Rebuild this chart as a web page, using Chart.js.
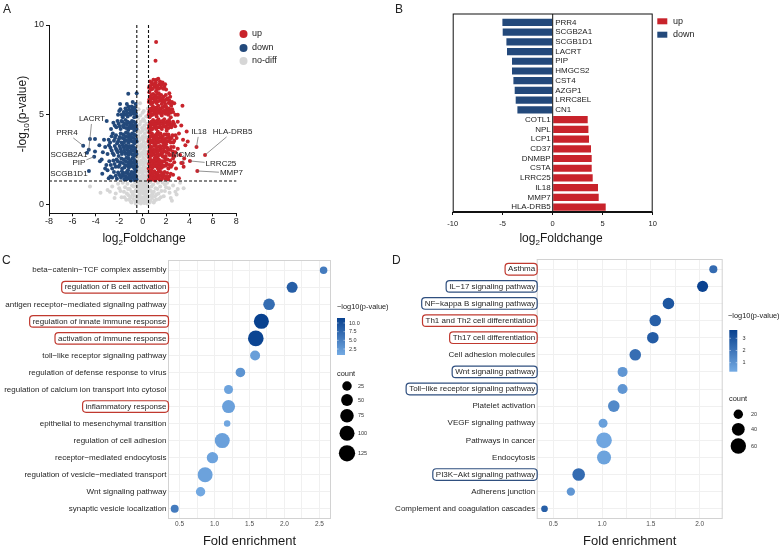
<!DOCTYPE html>
<html>
<head>
<meta charset="utf-8">
<script src="https://cdn.jsdelivr.net/npm/chart.js@4.4.1/dist/chart.umd.min.js"></script>
<style>
  body { margin: 0; background: #fff; }
  #fig { position: relative; width: 780px; height: 550px; overflow: hidden; font-family: "Liberation Sans", Arial, sans-serif; }
  #fig canvas { position: absolute; }
  .tag { position: absolute; font-size: 12px; line-height: 1; color: #222; }
</style>
</head>
<body>
<div id="fig">
  <canvas id="chartA" width="390" height="250" style="left:0;top:0"></canvas>
  <canvas id="chartB" width="390" height="250" style="left:390px;top:0"></canvas>
  <canvas id="chartC" width="390" height="300" style="left:0;top:250px"></canvas>
  <canvas id="chartD" width="390" height="300" style="left:390px;top:250px"></canvas>
  <div class="tag" style="left:3px;top:3px">A</div>
  <div class="tag" style="left:395px;top:3px">B</div>
  <div class="tag" style="left:2px;top:254px">C</div>
  <div class="tag" style="left:392px;top:254px">D</div>
</div>
<script>
// ---------- Panel A: volcano, points as [log2FC, -log10 p] ----------
const upPoints = [
  [0.53,1.36],[0.62,1.52],[0.71,1.41],[0.8,1.68],[0.88,1.38],[0.97,1.55],[1.06,1.33],[1.15,1.72],[1.24,1.46],[1.33,1.6],
  [1.45,1.39],[1.56,1.8],[1.68,1.5],[1.82,1.62],[1.95,1.42],[2.1,1.75],[2.28,1.55],[2.6,1.65],[0.58,1.85],[0.75,1.9],
  [1.0,1.85],[1.4,1.88],[3.1,1.45],
  [0.57,1.6],[0.66,1.75],[0.75,1.5],[0.84,1.62],[0.93,1.75],[1.02,1.48],[1.11,1.58],[1.2,1.62],[1.29,1.78],[1.38,1.5],
  [1.5,1.62],[1.62,1.4],[1.74,1.72],[1.88,1.8],[2.02,1.55],[2.18,1.4],[2.4,1.7],
  [0.52,2.0],[0.6,2.3],[0.68,2.1],[0.77,2.45],[0.85,2.05],[0.93,2.3],[1.02,2.55],[1.1,2.12],[1.2,2.38],[1.3,2.0],
  [1.38,2.5],[1.48,2.22],[1.58,2.02],[1.68,2.4],[1.8,2.15],[1.92,2.55],[2.05,2.28],[2.2,2.0],[2.35,2.45],[2.5,2.2],
  [2.7,2.35],[2.85,2.0],[0.56,2.6],[1.25,2.62],[1.75,2.65],[3.3,2.3],[3.5,2.1],
  [0.56,2.25],[0.64,2.5],[0.73,2.2],[0.81,2.15],[0.89,2.35],[0.98,2.42],[1.06,2.25],[1.15,2.5],[1.24,2.15],[1.34,2.3],
  [1.43,2.05],[1.53,2.4],[1.63,2.25],[1.73,2.1],[1.86,2.4],[1.99,2.15],[2.12,2.5],[2.27,2.2],[2.42,2.1],[2.6,2.55],
  [0.53,2.8],[0.62,3.1],[0.7,2.7],[0.8,3.0],[0.9,2.85],[0.98,3.25],[1.07,2.75],[1.16,3.05],[1.26,2.9],[1.35,3.2],
  [1.45,2.75],[1.55,3.1],[1.65,2.85],[1.75,3.25],[1.86,2.95],[1.98,2.7],[2.1,3.15],[2.22,2.85],[2.36,3.05],[2.5,2.75],
  [2.65,3.2],[2.8,2.9],[3.0,3.1],[3.2,2.75],[0.58,3.3],[1.1,3.35],[2.0,3.35],
  [0.57,2.95],[0.66,2.85],[0.75,3.2],[0.85,2.75],[0.94,3.05],[1.03,2.95],[1.12,2.7],[1.21,3.2],[1.3,2.8],[1.4,3.0],
  [1.5,3.25],[1.6,2.95],[1.7,2.7],[1.81,3.1],[1.92,3.2],[2.04,2.9],[2.16,3.05],[2.3,2.75],[2.43,3.2],[2.58,2.95],[2.73,2.7],
  [0.52,3.5],[0.61,3.8],[0.7,3.45],[0.79,3.95],[0.88,3.6],[0.96,3.4],[1.05,3.85],[1.14,3.55],[1.23,3.95],[1.32,3.45],
  [1.42,3.7],[1.52,3.95],[1.6,3.5],[1.7,3.8],[1.8,3.4],[1.9,3.65],[2.02,3.9],[2.14,3.5],[2.26,3.75],[2.4,3.45],
  [2.55,3.85],[2.7,3.55],[2.9,3.7],[3.1,3.95],[3.45,3.6],[3.76,4.06],[0.57,4.0],[1.3,4.05],[2.05,4.1],
  [0.56,3.65],[0.65,3.55],[0.74,3.8],[0.83,3.5],[0.92,3.8],[1.0,3.7],[1.09,3.45],[1.18,3.75],[1.27,3.6],[1.37,3.9],
  [1.47,3.5],[1.56,3.75],[1.65,3.65],[1.75,3.55],[1.85,3.9],[1.96,3.5],[2.08,3.7],[2.2,3.9],[2.33,3.6],[2.48,3.7],
  [2.62,3.45],[2.8,3.85],
  [0.53,4.25],[0.62,4.55],[0.71,4.15],[0.8,4.45],[0.89,4.7],[0.98,4.3],[1.07,4.6],[1.16,4.2],[1.25,4.5],[1.35,4.75],
  [1.44,4.3],[1.54,4.6],[1.64,4.2],[1.74,4.5],[1.85,4.75],[1.96,4.35],[2.08,4.6],[2.2,4.25],[2.32,4.55],[2.45,4.3],
  [2.6,4.6],[2.78,4.35],[3.0,4.6],[3.3,4.4],[0.58,4.85],[1.2,4.9],[2.4,4.85],
  [0.57,4.4],[0.66,4.3],[0.75,4.6],[0.84,4.2],[0.93,4.5],[1.02,4.45],[1.11,4.35],[1.2,4.65],[1.3,4.3],[1.4,4.55],
  [1.49,4.45],[1.59,4.3],[1.69,4.65],[1.79,4.35],[1.9,4.55],[2.02,4.25],[2.14,4.45],[2.26,4.7],[2.38,4.4],[2.52,4.45],[2.68,4.5],
  [0.52,5.0],[0.61,5.3],[0.7,4.95],[0.79,5.2],[0.88,5.45],[0.97,5.05],[1.06,5.35],[1.15,5.0],[1.24,5.25],[1.33,5.5],
  [1.43,5.1],[1.53,5.35],[1.63,4.95],[1.73,5.2],[1.84,5.45],[1.95,5.05],[2.06,5.3],[2.18,5.0],[2.3,5.25],[2.44,5.5],
  [2.6,5.15],[2.8,5.0],[3.0,5.0],[3.4,5.5],
  [0.56,5.15],[0.65,5.05],[0.74,5.35],[0.84,5.0],[0.93,5.25],[1.01,5.2],[1.1,5.1],[1.19,5.4],[1.29,5.1],[1.38,5.3],
  [1.48,5.2],[1.58,5.05],[1.68,5.4],[1.78,5.1],[1.9,5.25],[2.0,5.45],[2.12,5.15],[2.24,5.35],[2.37,5.1],[2.52,5.3],
  [0.53,5.7],[0.62,6.0],[0.71,5.6],[0.8,5.9],[0.9,6.15],[0.99,5.75],[1.08,6.05],[1.18,5.65],[1.28,5.95],[1.38,6.2],
  [1.48,5.8],[1.58,6.1],[1.68,5.7],[1.8,6.0],[1.92,5.6],[2.05,5.85],[2.2,5.65],[2.35,6.0],[2.5,5.7],[2.7,5.64],
  [0.57,6.25],[1.15,6.3],
  [0.57,5.85],[0.66,5.75],[0.76,6.1],[0.85,5.65],[0.94,5.95],[1.03,5.9],[1.13,5.8],[1.23,6.15],[1.33,5.75],[1.43,6.0],
  [1.53,5.9],[1.63,5.6],[1.74,5.85],[1.86,5.75],[1.98,6.1],[2.12,5.9],[2.27,5.8],[2.42,5.6],
  [0.55,6.5],[0.63,6.85],[0.72,6.4],[0.82,6.7],[0.92,6.95],[1.02,6.55],[1.12,6.8],[1.22,6.45],[1.33,7.0],[1.42,6.7],
  [1.55,6.5],[1.7,6.8],[1.85,6.56],[2.0,6.4],[2.28,6.2],[1.1,8.0],[1.15,9.05],
  [0.59,6.6],[0.68,6.55],[0.77,6.8],[0.87,6.45],[0.97,6.7],[1.07,6.65],[1.17,6.95],[1.27,6.6],[1.37,6.45],[1.48,6.85],
  [1.62,6.65],[1.77,6.45],[1.92,6.7],
  [3.65,3.3],[3.55,2.55],[3.85,3.5]
];
const downPoints = [
  [-0.53,1.4],[-0.62,1.62],[-0.71,1.35],[-0.8,1.78],[-0.9,1.5],[-1.0,1.33],[-1.1,1.68],[-1.2,1.45],[-1.32,1.85],[-1.44,1.55],
  [-1.56,1.38],[-1.7,1.72],[-1.85,1.48],[-2.0,1.65],[-2.2,1.42],[-2.45,1.8],[-2.75,1.55],[-3.0,1.9],[-0.58,1.9],[-1.25,1.9],
  [-0.57,1.55],[-0.66,1.8],[-0.75,1.48],[-0.85,1.65],[-0.95,1.8],[-1.05,1.42],[-1.15,1.55],[-1.26,1.7],[-1.38,1.4],[-1.5,1.75],
  [-1.63,1.58],[-1.77,1.85],[-1.92,1.6],[-2.1,1.78],[-2.3,1.6],[-2.6,1.5],
  [-0.52,2.1],[-0.61,2.4],[-0.7,2.0],[-0.79,2.3],[-0.88,2.55],[-0.97,2.15],[-1.07,2.45],[-1.17,2.05],[-1.27,2.35],[-1.38,2.6],
  [-1.5,2.2],[-1.62,2.5],[-1.75,2.0],[-1.9,2.35],[-2.05,2.1],[-2.22,2.5],[-2.4,2.25],[-2.6,2.0],[-2.85,2.4],[-3.1,2.2],
  [-3.5,2.5],[-3.65,2.4],
  [-0.56,2.25],[-0.65,2.15],[-0.74,2.5],[-0.83,2.1],[-0.92,2.35],[-1.02,2.3],[-1.12,2.2],[-1.22,2.55],[-1.32,2.15],[-1.44,2.4],
  [-1.56,2.05],[-1.68,2.3],[-1.82,2.55],[-1.97,2.2],[-2.13,2.4],[-2.3,2.1],[-2.5,2.45],[-2.72,2.2],
  [-0.53,2.8],[-0.62,3.1],[-0.71,2.7],[-0.8,3.0],[-0.9,3.25],[-0.99,2.85],[-1.09,3.15],[-1.19,2.75],[-1.3,3.05],[-1.41,3.3],
  [-1.52,2.9],[-1.64,3.2],[-1.77,2.8],[-1.9,3.1],[-2.05,2.7],[-2.2,3.0],[-2.38,3.25],[-2.55,2.85],[-2.75,3.15],[-3.0,2.8],
  [-3.2,3.2],[-3.4,2.9],
  [-0.57,2.95],[-0.66,2.85],[-0.75,3.2],[-0.85,2.75],[-0.94,3.05],[-1.04,2.95],[-1.14,3.25],[-1.24,2.9],[-1.35,3.15],[-1.46,2.8],
  [-1.58,3.05],[-1.7,3.3],[-1.83,2.95],[-1.97,3.25],[-2.12,2.9],[-2.28,3.1],[-2.46,2.75],[-2.65,3.0],[-2.88,3.3],
  [-0.52,3.5],[-0.61,3.85],[-0.7,3.4],[-0.8,3.7],[-0.9,3.95],[-1.0,3.55],[-1.1,3.85],[-1.2,3.45],[-1.31,3.75],[-1.42,4.0],
  [-1.54,3.6],[-1.66,3.9],[-1.8,3.45],[-1.95,3.75],[-2.1,3.5],[-2.28,3.85],[-2.45,3.55],[-2.65,3.8],[-2.9,3.6],[-3.7,3.3],
  [-0.56,3.65],[-0.65,3.55],[-0.75,3.9],[-0.85,3.5],[-0.95,3.75],[-1.05,3.7],[-1.15,3.6],[-1.25,3.95],[-1.36,3.55],[-1.48,3.8],
  [-1.6,3.45],[-1.72,3.7],[-1.87,3.95],[-2.02,3.65],[-2.18,3.4],[-2.36,3.7],[-2.55,3.95],[-2.78,3.45],
  [-0.53,4.2],[-0.62,4.55],[-0.71,4.1],[-0.81,4.4],[-0.91,4.65],[-1.01,4.25],[-1.12,4.55],[-1.23,4.15],[-1.35,4.45],[-1.47,4.7],
  [-1.6,4.3],[-1.74,4.6],[-1.88,4.2],[-2.05,4.5],[-2.25,4.3],[-2.5,4.55],[-2.7,4.2],
  [-0.57,4.4],[-0.66,4.3],[-0.76,4.6],[-0.86,4.25],[-0.96,4.5],[-1.06,4.4],[-1.17,4.3],[-1.29,4.6],[-1.41,4.25],[-1.53,4.5],
  [-1.67,4.4],[-1.81,4.65],[-1.96,4.35],[-2.15,4.65],[-2.38,4.4],
  [-0.54,4.9],[-0.63,5.25],[-0.72,4.85],[-0.82,5.15],[-0.93,5.45],[-1.04,5.0],[-1.16,5.3],[-1.28,4.9],[-1.4,5.2],[-1.55,5.0],
  [-1.7,4.85],[-1.9,5.3],[-2.1,5.0],[-0.6,5.6],[-0.85,5.7],[-1.23,6.16],[-0.51,6.2],[-1.93,5.6],[-1.35,5.6],
  [-0.58,5.05],[-0.68,5.4],[-0.77,5.05],[-0.87,5.3],[-0.98,5.2],[-1.1,5.1],[-1.22,5.45],[-1.34,5.05],[-1.47,5.35],[-1.62,5.15],
  [-1.8,5.0],[-2.0,5.2],
  [-3.07,4.64],[-4.5,3.65],[-4.07,3.65],[-4.07,2.95],[-3.3,3.6],[-3.2,2.0],[-3.45,1.7],[-2.9,1.45]
];
const nodiffPoints = [
  [-0.45,0.1],[-0.3,0.2],[-0.15,0.05],[0,0.15],[0.15,0.08],[0.3,0.22],[0.45,0.12],
  [-0.38,0.1],[-0.22,0.12],[-0.08,0.2],[0.08,0.1],[0.22,0.18],[0.38,0.05],
  [-0.48,0.3],[-0.33,0.35],[-0.18,0.3],[-0.03,0.35],[0.12,0.3],[0.27,0.38],[0.42,0.3],
  [-0.4,0.45],[-0.25,0.55],[-0.1,0.4],[0.05,0.6],[0.2,0.45],[0.35,0.58],
  [-0.35,0.7],[-0.2,0.68],[-0.05,0.72],[0.1,0.78],[0.25,0.7],[0.4,0.75],
  [-0.45,0.85],[-0.3,0.95],[-0.15,0.8],[0,0.9],[0.15,1.0],[0.3,0.85],[0.45,0.95],
  [-0.48,1.05],[-0.33,1.1],[-0.18,1.0],[-0.03,1.08],[0.12,1.15],[0.27,1.05],[0.42,1.15],
  [-0.4,1.2],[-0.25,1.35],[-0.1,1.15],[0.05,1.3],[0.2,1.2],[0.38,1.4],
  [-0.35,1.45],[-0.2,1.5],[-0.05,1.42],[0.1,1.45],[0.25,1.5],[0.45,1.4],
  [-0.45,1.6],[-0.3,1.75],[-0.15,1.55],[0,1.7],[0.15,1.6],[0.3,1.8],[0.45,1.65],
  [-0.42,1.85],[-0.25,1.95],[-0.08,1.85],[0.08,1.9],[0.25,1.85],[0.38,1.95],
  [-0.38,2.05],[-0.22,2.2],[-0.08,2.0],[0.08,2.15],[0.22,2.05],[0.4,2.25],
  [-0.33,2.35],[-0.15,2.3],[0.0,2.35],[0.15,2.3],[0.3,2.4],
  [-0.45,2.5],[-0.3,2.65],[-0.12,2.45],[0.05,2.6],[0.2,2.5],[0.35,2.7],
  [-0.35,2.8],[-0.15,2.75],[0.0,2.8],[0.2,2.8],[0.38,2.85],
  [-0.4,2.95],[-0.22,3.1],[-0.05,2.9],[0.12,3.05],[0.3,2.95],[0.45,3.15],
  [-0.3,3.25],[-0.12,3.2],[0.05,3.25],[0.22,3.2],
  [-0.45,3.4],[-0.28,3.55],[-0.1,3.35],[0.08,3.5],[0.25,3.4],[0.42,3.6],
  [-0.3,3.7],[-0.05,3.65],[0.15,3.7],[0.3,3.75],
  [-0.38,3.85],[-0.18,4.0],[0.02,3.8],[0.2,3.95],[0.4,4.05],[-0.35,4.1],[0.0,4.1],[0.25,4.2],
  [-0.45,4.3],[-0.25,4.45],[-0.05,4.25],[0.15,4.4],[0.35,4.5],[-0.15,4.6],[0.15,4.65],
  [-0.4,4.8],[-0.2,4.95],[0.05,4.75],[0.3,4.9],[0.0,5.1],[-0.22,5.63],[-0.35,5.3],[0.1,5.2],[0.45,5.35],
  [-0.6,0.05],[-0.8,0.3],[-1.0,0.15],[-1.2,0.5],[-1.4,0.25],[-1.6,0.7],[-1.8,0.4],[-2.0,0.9],[-2.3,0.6],[-2.6,1.0],
  [-3.0,0.8],[-0.7,0.7],[-0.9,1.05],[-1.1,0.85],[-1.3,1.15],[-1.5,0.95],[-1.7,1.2],[-2.1,1.15],[-0.65,1.2],[-0.85,0.55],
  [-1.05,0.4],[-4.5,0.99],[-3.6,0.65],
  [-0.55,0.45],[-0.65,0.2],[-0.75,0.5],[-0.95,0.7],[-1.15,0.25],[-1.35,0.6],[-1.55,0.4],[-1.25,0.85],[-0.75,1.0],[-0.58,0.8],
  [-1.9,0.75],[-2.4,0.35],[-2.8,0.7],[-0.95,0.1],
  [0.6,0.1],[0.8,0.35],[1.0,0.2],[1.2,0.55],[1.4,0.3],[1.6,0.75],[1.8,0.45],[2.0,0.95],[2.3,0.65],[2.6,1.05],
  [3.0,0.85],[3.2,1.2],[0.7,0.75],[0.9,1.1],[1.1,0.9],[1.3,1.2],[1.5,1.0],[1.7,1.22],[2.1,1.2],[0.65,1.25],
  [0.85,0.6],[1.05,0.45],[2.9,0.55],[3.5,0.9],
  [0.55,0.45],[0.65,0.2],[0.75,0.5],[0.95,0.7],[1.15,0.25],[1.35,0.6],[1.55,0.4],[1.25,0.85],[0.75,1.0],[0.58,0.8],
  [1.9,0.75],[2.4,0.35],[2.8,0.7],[0.95,0.1],[1.9,1.1],[2.25,0.9],[2.5,0.2]
];
const labeledGenes = ['LACRT', 'PRR4', 'SCGB2A1', 'PIP', 'SCGB1D1', 'IL18', 'HLA-DRB5', 'MCM8', 'LRRC25', 'MMP7'];
const labeledFC = [-4.6, -5.08, -4.75, -4.14, -4.59, 4.6, 5.33, 3.42, 4.04, 4.67];
const labeledP = [3.05, 3.27, 2.88, 2.66, 1.86, 3.2, 2.75, 2.3, 2.42, 1.86];
const fcCutoffs = [-0.5, 0.5];
const pCutoff = 1.3;
const volcanoTicksX = [-8, -6, -4, -2, 0, 2, 4, 6, 8];
const volcanoTicksY = [0, 5, 10];

// ---------- Panel B: top genes ----------
const genesB = ['PRR4', 'SCGB2A1', 'SCGB1D1', 'LACRT', 'PIP', 'HMGCS2', 'CST4', 'AZGP1', 'LRRC8EL', 'CN1',
  'COTL1', 'NPL', 'LCP1', 'CD37', 'DNMBP', 'CSTA', 'LRRC25', 'IL18', 'MMP7', 'HLA-DRB5'];
const foldB = [-5.03, -5.0, -4.63, -4.57, -4.07, -4.07, -3.93, -3.8, -3.7, -3.53,
  3.5, 3.57, 3.63, 3.83, 3.9, 3.9, 4.0, 4.53, 4.6, 5.3];
const ticksB = [-10, -5, 0, 5, 10];

// ---------- Panel C: GO enrichment ----------
const termsC = ['beta\u2212catenin\u2212TCF complex assembly', 'regulation of B cell activation',
  'antigen receptor\u2212mediated signaling pathway', 'regulation of innate immune response',
  'activation of immune response', 'toll\u2212like receptor signaling pathway',
  'regulation of defense response to virus', 'regulation of calcium ion transport into cytosol',
  'inflammatory response', 'epithelial to mesenchymal transition', 'regulation of cell adhesion',
  'receptor\u2212mediated endocytosis', 'regulation of vesicle\u2212mediated transport',
  'Wnt signaling pathway', 'synaptic vesicle localization'];
const foldC = [2.56, 2.11, 1.78, 1.67, 1.59, 1.58, 1.37, 1.20, 1.20, 1.18, 1.11, 0.97, 0.865, 0.80, 0.43];
const countC = [10, 40, 48, 100, 111, 30, 26, 21, 67, 5, 100, 45, 100, 24, 13];
const logpC = [5.5, 8.5, 7.0, 11.4, 11.0, 2.0, 3.0, 1.5, 1.8, 1.2, 1.8, 1.5, 1.6, 1.0, 5.5];
const boxedC = { 'regulation of B cell activation': 'red', 'regulation of innate immune response': 'red',
  'activation of immune response': 'red', 'inflammatory response': 'red' };

// ---------- Panel D: KEGG enrichment ----------
const termsD = ['Asthma', 'IL\u221217 signaling pathway', 'NF\u2212kappa B signaling pathway',
  'Th1 and Th2 cell differentiation', 'Th17 cell differentiation', 'Cell adhesion molecules',
  'Wnt signaling pathway', 'Toll\u2212like receptor signaling pathway', 'Platelet activation',
  'VEGF signaling pathway', 'Pathways in cancer', 'Endocytosis', 'PI3K\u2212Akt signaling pathway',
  'Adherens junction', 'Complement and coagulation cascades'];
const foldD = [2.14, 2.03, 1.68, 1.545, 1.52, 1.34, 1.21, 1.21, 1.12, 1.01, 1.02, 1.02, 0.76, 0.68, 0.41];
const countD = [14, 29, 32, 32, 32, 32, 23, 23, 32, 18, 62, 49, 39, 15, 9];
const logpD = [2.3, 3.6, 3.0, 2.7, 2.8, 2.2, 0.9, 0.9, 1.3, 0.6, 0.4, 0.5, 2.3, 0.9, 2.7];
const boxedD = { 'Asthma': 'red', 'IL\u221217 signaling pathway': 'blue', 'NF\u2212kappa B signaling pathway': 'blue',
  'Th1 and Th2 cell differentiation': 'red', 'Th17 cell differentiation': 'red',
  'Wnt signaling pathway': 'blue', 'Toll\u2212like receptor signaling pathway': 'blue',
  'PI3K\u2212Akt signaling pathway': 'blue' };

// ---------- style ----------
const FONT = '"Liberation Sans", Arial, sans-serif';
const RED = '#c8232b', BLUE = '#23497b', GREY = '#d6d6d6';
const BOX_RED = '#c0392f', BOX_BLUE = '#2f4f7f';
const LOW = [0x74, 0xaa, 0xe3], HIGH = [0x08, 0x41, 0x8f];
const DOT = 2.0;

Chart.defaults.font.family = FONT;
Chart.defaults.color = '#222';
Chart.defaults.animation = false;

function colorFor(v, range) {
  const t = Math.max(0, Math.min(1, (v - range[0]) / (range[1] - range[0])));
  return 'rgb(' + LOW.map((c, i) => Math.round(c + (HIGH[i] - c) * t)).join(',') + ')';
}

function drawSubText(ctx, parts, cx, baseY, angle) {
  ctx.save();
  ctx.translate(cx, baseY);
  if (angle) ctx.rotate(angle);
  let total = 0;
  parts.forEach(p => { ctx.font = p[1] + 'px ' + FONT; total += ctx.measureText(p[0]).width; });
  let xx = -total / 2;
  ctx.textAlign = 'left';
  ctx.textBaseline = 'alphabetic';
  ctx.fillStyle = '#1a1a1a';
  parts.forEach(p => {
    ctx.font = p[1] + 'px ' + FONT;
    ctx.fillText(p[0], xx, p[2]);
    xx += ctx.measureText(p[0]).width;
  });
  ctx.restore();
}

function roundBox(ctx, x, y, w, h, r) {
  ctx.beginPath();
  ctx.moveTo(x + r, y);
  ctx.arcTo(x + w, y, x + w, y + h, r);
  ctx.arcTo(x + w, y + h, x, y + h, r);
  ctx.arcTo(x, y + h, x, y, r);
  ctx.arcTo(x, y, x + w, y, r);
  ctx.closePath();
}

const axisLine = {
  grid: { display: true, drawOnChartArea: false, drawTicks: true, tickLength: 3, color: '#111' },
  border: { display: true, color: '#111', width: 1 }
};

// ---------- Panel A ----------
const labelAnchors = [[-4.33, 4.76], [-6.47, 3.98], [-6.3, 2.75], [-5.44, 2.31], [-6.3, 1.69],
  [4.81, 4.04], [7.68, 4.04], [3.49, 2.75], [6.69, 2.25], [7.59, 1.75]];

const volcanoDecor = {
  id: 'volcanoDecor',
  afterDatasetsDraw(chart) {
    const { ctx, chartArea: a, scales: { x, y } } = chart;
    ctx.save();
    ctx.strokeStyle = '#111';
    ctx.lineWidth = 1.1;
    ctx.setLineDash([3, 2]);
    fcCutoffs.forEach(v => {
      const px = x.getPixelForValue(v);
      ctx.beginPath(); ctx.moveTo(px, a.top); ctx.lineTo(px, a.bottom); ctx.stroke();
    });
    const py = y.getPixelForValue(pCutoff);
    ctx.beginPath(); ctx.moveTo(a.left, py); ctx.lineTo(a.right, py); ctx.stroke();
    ctx.setLineDash([]);

    ctx.font = '8px ' + FONT;
    ctx.textAlign = 'center';
    ctx.textBaseline = 'middle';
    labeledGenes.forEach((g, i) => {
      const px = x.getPixelForValue(labeledFC[i]), pyy = y.getPixelForValue(labeledP[i]);
      const lx = x.getPixelForValue(labelAnchors[i][0]), ly = y.getPixelForValue(labelAnchors[i][1]);
      const hw = ctx.measureText(g).width / 2 + 1, hh = 5;
      const dx = px - lx, dy = pyy - ly;
      const t = Math.min(dx ? hw / Math.abs(dx) : Infinity, dy ? hh / Math.abs(dy) : Infinity);
      if (t < 1 && Math.hypot(dx * (1 - t), dy * (1 - t)) > 2) {
        ctx.strokeStyle = '#666';
        ctx.lineWidth = 0.7;
        ctx.beginPath(); ctx.moveTo(lx + dx * t, ly + dy * t); ctx.lineTo(px, pyy); ctx.stroke();
      }
      ctx.fillStyle = '#222';
      ctx.fillText(g, lx, ly);
    });
    ctx.restore();
  },
  afterDraw(chart) {
    const ctx = chart.ctx;
    ctx.save();
    [['up', RED, 34], ['down', BLUE, 48], ['no-diff', GREY, 61]].forEach(([name, col, yy]) => {
      ctx.fillStyle = col;
      ctx.beginPath(); ctx.arc(243.5, yy, 4, 0, Math.PI * 2); ctx.fill();
      ctx.fillStyle = '#222';
      ctx.font = '9px ' + FONT;
      ctx.textAlign = 'left';
      ctx.textBaseline = 'middle';
      ctx.fillText(name, 252, yy);
    });
    ctx.restore();
    drawSubText(ctx, [['log', 12, 0], ['2', 8, 3], ['Foldchange', 12, 0]], 144, 242);
    drawSubText(ctx, [['-log', 12, 0], ['10', 8, 3], ['(p-value)', 12, 0]], 26, 114, -Math.PI / 2);
  }
};

const toXY = p => ({ x: p[0], y: p[1] });
const labeledPts = labeledFC.map((v, i) => [v, labeledP[i]]);

new Chart(document.getElementById('chartA'), {
  type: 'scatter',
  data: {
    datasets: [
      { label: 'up', data: upPoints.concat(labeledPts.filter(p => p[0] > 0)).map(toXY),
        backgroundColor: RED, pointRadius: DOT, pointBorderWidth: 0 },
      { label: 'down', data: downPoints.concat(labeledPts.filter(p => p[0] < 0)).map(toXY),
        backgroundColor: BLUE, pointRadius: DOT, pointBorderWidth: 0 },
      { label: 'no-diff', data: nodiffPoints.map(toXY),
        backgroundColor: GREY, pointRadius: DOT, pointBorderWidth: 0 }
    ]
  },
  options: {
    responsive: false,
    layout: { padding: { left: 9, top: 25, right: 153.7, bottom: 14.7 } },
    plugins: { legend: { display: false }, tooltip: { enabled: false } },
    scales: {
      x: {
        type: 'linear', min: -8, max: 8, ...axisLine,
        afterBuildTicks: s => { s.ticks = volcanoTicksX.map(v => ({ value: v })); },
        afterFit: s => { s.height = 22; },
        ticks: { autoSkip: false, maxRotation: 0, padding: 0, font: { size: 9 }, color: '#222' }
      },
      y: {
        type: 'linear', min: -0.5, max: 10, ...axisLine,
        afterBuildTicks: s => { s.ticks = volcanoTicksY.map(v => ({ value: v })); },
        afterFit: s => { s.width = 40; },
        ticks: { padding: 2, font: { size: 9 }, color: '#222' }
      }
    }
  },
  plugins: [volcanoDecor]
});

// ---------- Panel B ----------
const barDecor = {
  id: 'barDecor',
  afterDatasetsDraw(chart) {
    const { ctx, chartArea: a, scales: { x, y } } = chart;
    ctx.save();
    ctx.strokeStyle = '#111';
    ctx.lineWidth = 1;
    ctx.strokeRect(a.left + 0.5, a.top - 3.5, a.right - a.left - 1, a.bottom - a.top + 3);
    const x0 = x.getPixelForValue(0);
    ctx.beginPath(); ctx.moveTo(x0, a.top - 3.5); ctx.lineTo(x0, a.bottom); ctx.stroke();
    ctx.font = '8px ' + FONT;
    ctx.fillStyle = '#222';
    ctx.textBaseline = 'middle';
    genesB.forEach((g, i) => {
      const yy = y.getPixelForValue(i);
      if (foldB[i] < 0) { ctx.textAlign = 'left'; ctx.fillText(g, x0 + 2.5, yy); }
      else { ctx.textAlign = 'right'; ctx.fillText(g, x0 - 2, yy); }
    });
    ctx.restore();
  },
  afterDraw(chart) {
    const ctx = chart.ctx;
    ctx.save();
    [['up', RED, 21.3], ['down', BLUE, 34.7]].forEach(([name, col, yy]) => {
      ctx.fillStyle = col;
      ctx.fillRect(267.3, yy - 3, 10, 6);
      ctx.fillStyle = '#222';
      ctx.font = '9px ' + FONT;
      ctx.textAlign = 'left';
      ctx.textBaseline = 'middle';
      ctx.fillText(name, 283, yy);
    });
    ctx.restore();
    drawSubText(ctx, [['log', 12, 0], ['2', 8, 3], ['Foldchange', 12, 0]], 171, 242);
  }
};

new Chart(document.getElementById('chartB'), {
  type: 'bar',
  data: {
    labels: genesB,
    datasets: [
      { label: 'up', data: foldB.map(v => (v > 0 ? v : null)), backgroundColor: RED,
        grouped: false, barPercentage: 0.74, categoryPercentage: 1 },
      { label: 'down', data: foldB.map(v => (v < 0 ? v : null)), backgroundColor: BLUE,
        grouped: false, barPercentage: 0.74, categoryPercentage: 1 }
    ]
  },
  options: {
    responsive: false,
    indexAxis: 'y',
    layout: { padding: { left: 62.7, top: 17.5, right: 127.3, bottom: 18 } },
    plugins: { legend: { display: false }, tooltip: { enabled: false } },
    scales: {
      x: {
        type: 'linear', min: -10, max: 10, ...axisLine,
        afterBuildTicks: s => { s.ticks = ticksB.map(v => ({ value: v })); },
        afterFit: s => { s.height = 20; },
        ticks: { autoSkip: false, maxRotation: 0, padding: 4, font: { size: 7.5 }, color: '#222' }
      },
      y: { display: false }
    }
  },
  plugins: [barDecor]
});

// ---------- Panels C and D ----------
function enrichDecor(cfg) {
  return {
    id: 'enrichDecor',
    afterDraw(chart) {
      const { ctx, chartArea: a, scales: { y } } = chart;
      ctx.save();
      ctx.strokeStyle = '#d2d2d2';
      ctx.lineWidth = 1;
      ctx.strokeRect(a.left + 0.5, a.top + 0.5, a.right - a.left - 1, a.bottom - a.top - 1);

      ctx.font = '8px ' + FONT;
      cfg.terms.forEach((t, i) => {
        const tone = cfg.boxes[t];
        if (!tone) return;
        const w = ctx.measureText(t).width;
        const right = a.left - 1.5;
        const cy = y.getPixelForValue(i + 1);
        roundBox(ctx, right - w - 3, cy - 5.8, w + 5, 11.6, 3.5);
        ctx.strokeStyle = tone === 'red' ? BOX_RED : BOX_BLUE;
        ctx.lineWidth = 1.2;
        ctx.stroke();
      });

      ctx.fillStyle = '#1a1a1a';
      ctx.font = '13px ' + FONT;
      ctx.textAlign = 'center';
      ctx.textBaseline = 'middle';
      ctx.fillText('Fold enrichment', (a.left + a.right) / 2, 291);

      const L = cfg.legend;
      ctx.textAlign = 'left';
      ctx.font = '7.4px ' + FONT;
      ctx.fillText('\u2212log10(p-value)', L.titleX, L.titleY);
      const [lo, hi] = cfg.pRange;
      const grad = ctx.createLinearGradient(0, L.barBottom, 0, L.barTop);
      for (let k = 0; k <= 10; k++) grad.addColorStop(k / 10, colorFor(lo + (hi - lo) * k / 10, cfg.pRange));
      ctx.fillStyle = grad;
      ctx.fillRect(L.barX, L.barTop, 8, L.barBottom - L.barTop);
      ctx.font = '5.5px ' + FONT;
      L.ticks.forEach(v => {
        const yy = L.barBottom - (v - lo) / (hi - lo) * (L.barBottom - L.barTop);
        ctx.strokeStyle = 'rgba(255,255,255,0.8)';
        ctx.lineWidth = 0.6;
        ctx.beginPath(); ctx.moveTo(L.barX, yy); ctx.lineTo(L.barX + 1.6, yy);
        ctx.moveTo(L.barX + 6.4, yy); ctx.lineTo(L.barX + 8, yy); ctx.stroke();
        ctx.fillStyle = '#333';
        ctx.fillText(L.tickFmt(v), L.tickX, yy);
      });

      ctx.fillStyle = '#1a1a1a';
      ctx.font = '7.4px ' + FONT;
      ctx.fillText('count', L.countX, L.countY);
      ctx.font = '5.5px ' + FONT;
      L.counts.forEach((n, k) => {
        ctx.fillStyle = '#333';
        ctx.fillText(String(n), L.countLabelX, L.circleY[k]);
      });
      L.counts.forEach((n, k) => {
        ctx.fillStyle = '#000';
        ctx.beginPath(); ctx.arc(L.circleX, L.circleY[k], cfg.radius(n), 0, Math.PI * 2); ctx.fill();
      });
      ctx.restore();
    }
  };
}

function isMajor(v) { return Math.abs(v * 2 - Math.round(v * 2)) < 1e-6; }

function makeEnrichment(canvasId, cfg) {
  return new Chart(document.getElementById(canvasId), {
    type: 'bubble',
    data: {
      datasets: [{
        data: cfg.terms.map((t, i) => ({ x: cfg.fold[i], y: i + 1, r: cfg.radius(cfg.count[i]) })),
        backgroundColor: cfg.logp.map(v => colorFor(v, cfg.pRange)),
        borderWidth: 0
      }]
    },
    options: {
      responsive: false,
      layout: { padding: { left: 0, top: cfg.area.top, right: cfg.area.right, bottom: 0 } },
      plugins: { legend: { display: false }, tooltip: { enabled: false } },
      scales: {
        x: {
          type: 'linear', min: cfg.xRange[0], max: cfg.xRange[1],
          afterBuildTicks: s => { s.ticks = cfg.xGrid.map(v => ({ value: v })); },
          afterFit: s => { s.height = 31; },
          ticks: { autoSkip: false, maxRotation: 0, padding: 1.5, color: '#4d4d4d', font: { size: 6.5 },
            callback: v => (isMajor(v) ? v.toFixed(1) : '') },
          grid: { color: '#f0f0f0', drawTicks: false },
          border: { display: false }
        },
        y: {
          type: 'linear', min: 0.4, max: cfg.terms.length + 0.6, reverse: true,
          afterBuildTicks: s => { s.ticks = cfg.terms.map((t, i) => ({ value: i + 1 })); },
          afterFit: s => { s.width = cfg.area.left; },
          ticks: { autoSkip: false, padding: 1.5, color: '#262626', font: { size: 8 },
            callback: v => cfg.terms[v - 1] },
          grid: { color: '#f0f0f0', drawTicks: false },
          border: { display: false }
        }
      }
    },
    plugins: [enrichDecor(cfg)]
  });
}

makeEnrichment('chartC', {
  terms: termsC, fold: foldC, count: countC, logp: logpC, boxes: boxedC,
  pRange: [0.77, 11.44],
  radius: n => 2 + 0.55 * Math.sqrt(n),
  xRange: [0.334, 2.666],
  xGrid: [0.5, 0.75, 1.0, 1.25, 1.5, 1.75, 2.0, 2.25, 2.5],
  area: { left: 168, top: 10, right: 59 },
  legend: {
    titleX: 337, titleY: 57, barX: 337, barTop: 68, barBottom: 105, tickX: 349,
    ticks: [2.5, 5, 7.5, 10], tickFmt: v => v.toFixed(1),
    countX: 337, countY: 124, circleX: 347, circleY: [136, 150, 165.7, 183.3, 203.3],
    countLabelX: 358, counts: [25, 50, 75, 100, 125]
  }
});

makeEnrichment('chartD', {
  terms: termsD, fold: foldD, count: countD, logp: logpD, boxes: boxedD,
  pRange: [0.26, 3.68],
  radius: n => 0.61 + 0.915 * Math.sqrt(n),
  xRange: [0.33, 2.236],
  xGrid: [0.5, 0.75, 1.0, 1.25, 1.5, 1.75, 2.0],
  area: { left: 146.7, top: 9, right: 57.3 },
  legend: {
    titleX: 338, titleY: 66, barX: 339.3, barTop: 80, barBottom: 121.7, tickX: 352.5,
    ticks: [1, 2, 3], tickFmt: v => String(v),
    countX: 339, countY: 149.3, circleX: 348.3, circleY: [164.3, 179.3, 196],
    countLabelX: 361, counts: [20, 40, 60]
  }
});
</script>
</body>
</html>
